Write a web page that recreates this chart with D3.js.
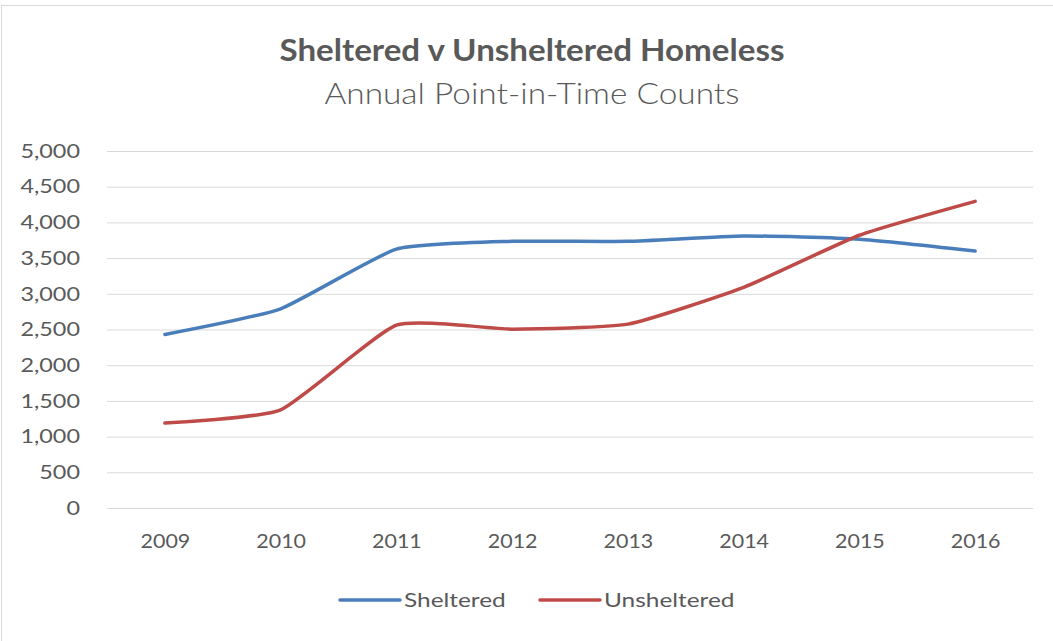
<!DOCTYPE html>
<html>
<head>
<meta charset="utf-8">
<script src="https://cdn.jsdelivr.net/npm/d3@7"></script>
<style>
  body { margin: 0; background: #fff; }
  svg { display: block; font-family: Lato, "Liberation Sans", sans-serif; }
</style>
</head>
<body>
<svg id="chart" width="1053" height="641"></svg>
<script>
"use strict";
const years = ["2009", "2010", "2011", "2012", "2013", "2014", "2015", "2016"];
const sheltered = [2430, 2790, 3625, 3735, 3735, 3810, 3765, 3600];
const unsheltered = [1190, 1375, 2560, 2505, 2575, 3090, 3820, 4295];
const yTicks = [0, 500, 1000, 1500, 2000, 2500, 3000, 3500, 4000, 4500, 5000];
const seriesNames = ["Sheltered", "Unsheltered"];
const seriesColors = ["#4a7ebb", "#be4b48"];

const svg = d3.select("#chart");
const W = 1053, H = 641;
const plot = { left: 107, right: 1033, top: 151, bottom: 508 };
const textColor = "#595959";

// widen a text selection horizontally, keeping its anchor
function widen(sel, k) {
    sel.each(function () {
        const len = this.getComputedTextLength();
        d3.select(this).attr("textLength", len * k).attr("lengthAdjust", "spacingAndGlyphs");
    });
}

svg.append("rect").attr("x", 1.5).attr("y", 5.5).attr("width", W + 10).attr("height", H + 10)
    .attr("fill", "#fff").attr("stroke", "#d9d9d9").attr("stroke-width", 1);

const x = d3.scalePoint().domain(years).range([plot.left, plot.right]).padding(0.5);
const y = d3.scaleLinear().domain([0, 5000]).range([plot.bottom, plot.top]);

// gridlines + y labels
const yAxis = svg.append("g").attr("transform", `translate(${plot.left},0)`)
    .call(d3.axisLeft(y).tickValues(yTicks).tickSize(-(plot.right - plot.left)).tickPadding(27).tickFormat(d3.format(",")));
yAxis.select(".domain").remove();
yAxis.selectAll(".tick line").attr("stroke", "#d9d9d9").attr("stroke-width", 1);
yAxis.selectAll(".tick text").attr("fill", textColor).style("font-size", "19.5px").style("font-family", "Lato, sans-serif")
    .call(widen, 1.2);

// x labels
const xAxis = svg.append("g").attr("transform", `translate(0,${plot.bottom})`)
    .call(d3.axisBottom(x).tickSize(0).tickPadding(26));
xAxis.select(".domain").remove();
xAxis.selectAll(".tick text").attr("fill", textColor).style("font-size", "19.5px").style("font-family", "Lato, sans-serif")
    .call(widen, 1.1);

// lines
const line = d3.line().x((d, i) => x(years[i])).y(d => y(d)).curve(d3.curveCardinal.tension(0.5));
[sheltered, unsheltered].forEach((vals, i) => {
    svg.append("path").datum(vals).attr("fill", "none").attr("stroke", seriesColors[i])
        .attr("stroke-width", 3.5).attr("stroke-linejoin", "round").attr("stroke-linecap", "round")
        .attr("d", line);
});

// title
svg.append("text").attr("x", 532).attr("y", 61).attr("text-anchor", "middle")
    .attr("fill", textColor).style("font-size", "30px").style("font-weight", "bold")
    .text("Sheltered v Unsheltered Homeless")
    .attr("textLength", 505).attr("lengthAdjust", "spacingAndGlyphs");
svg.append("text").attr("x", 532).attr("y", 104).attr("text-anchor", "middle")
    .attr("fill", textColor).style("font-size", "29px").style("font-weight", "300")
    .text("Annual Point-in-Time Counts")
    .attr("textLength", 415).attr("lengthAdjust", "spacingAndGlyphs");

// legend
const legendX = [340, 540];
seriesNames.forEach((name, i) => {
    const g = svg.append("g").attr("transform", `translate(${legendX[i]},600)`);
    g.append("line").attr("x1", 0).attr("x2", 60).attr("y1", 0).attr("y2", 0)
        .attr("stroke", seriesColors[i]).attr("stroke-width", 3.5).attr("stroke-linecap", "round");
    g.append("text").attr("x", 64).attr("y", 7).attr("fill", textColor)
        .style("font-size", "20px").text(name)
        .call(widen, 1.22);
});
</script>
</body>
</html>
